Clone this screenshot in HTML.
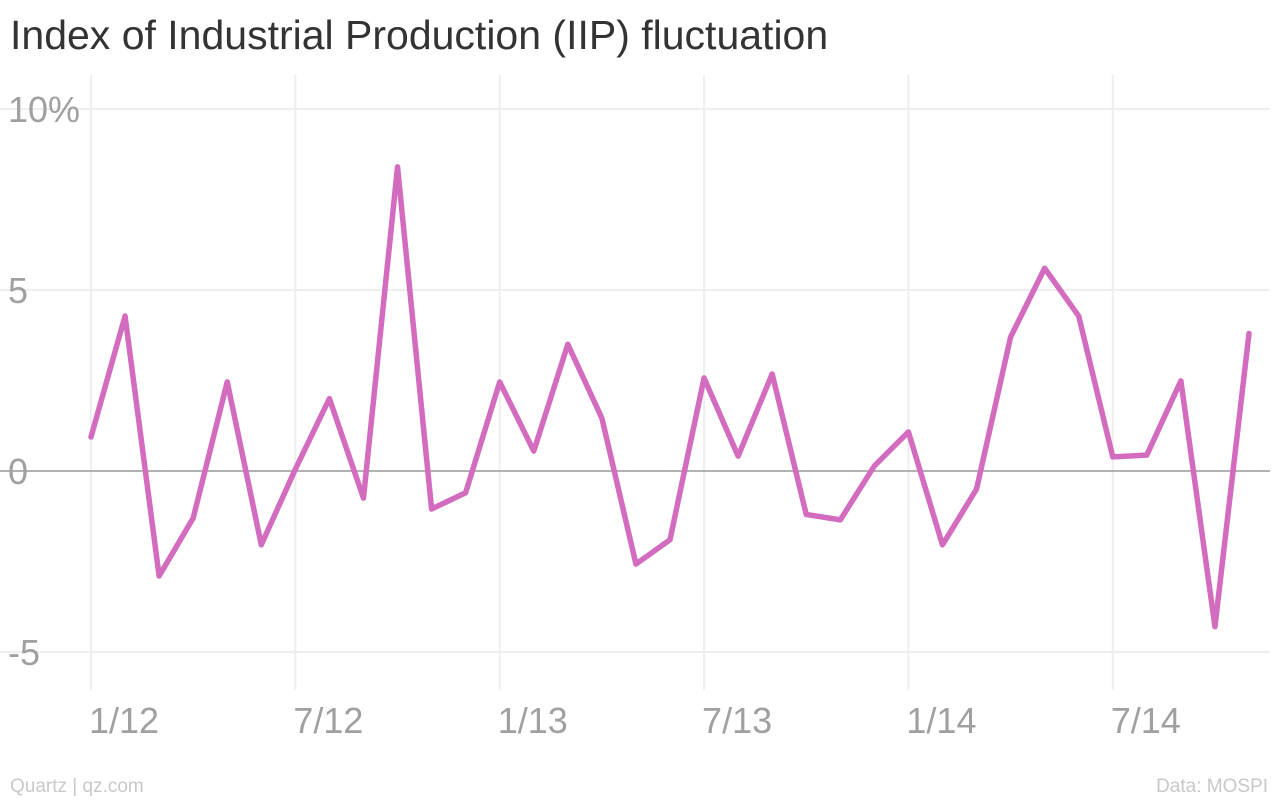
<!DOCTYPE html>
<html><head><meta charset="utf-8"><style>
body{margin:0;background:#fff;width:1280px;height:800px;overflow:hidden;font-family:"Liberation Sans",sans-serif}
</style></head><body>
<svg width="1280" height="800" id="chart">
<text x="10" y="49" font-size="41" fill="#333">Index of Industrial Production (IIP) fluctuation</text>
<text x="10" y="792" font-size="19" fill="#c8c8c8">Quartz | qz.com</text>
<text x="1268" y="792" font-size="19" fill="#c8c8c8" text-anchor="end">Data: MOSPI</text>
<g id="grid"></g><g id="line"></g>
</svg>
<script>
const yTicks=[10,5,0,-5];
const yTickLabels=["10%","5","0","-5"];
const xTickIdx=[0,6,12,18,24,30];
const xTickLabels=["1/12","7/12","1/13","7/13","1/14","7/14"];
const values=[0.94,4.28,-2.9,-1.3,2.46,-2.04,0.05,2.0,-0.75,8.4,-1.05,-0.6,2.46,0.55,3.5,1.46,-2.57,-1.9,2.57,0.41,2.68,-1.2,-1.35,0.14,1.08,-2.04,-0.5,3.7,5.6,4.28,0.39,0.44,2.49,-4.3,3.8];
const NS="http://www.w3.org/2000/svg";
const xs=i=>91+i*(1249-91)/34;
const ys=v=>471-v*36.2;
const grid=document.getElementById('grid'),lg=document.getElementById('line');
function mk(t,a,p){const e=document.createElementNS(NS,t);for(const k in a)e.setAttribute(k,a[k]);p.appendChild(e);return e;}
xTickIdx.forEach((m,i)=>{
 const l=mk('line',{x1:xs(m),x2:xs(m),y1:75,y2:690,stroke:'#eeeeee','stroke-width':2},grid);
 
 
 const t=mk('text',{x:xs(m)-2,y:733,'font-size':36,fill:'#a0a0a0'},grid);
 t.textContent=xTickLabels[i];
 
 
});
yTicks.forEach((v,i)=>{
 const l=mk('line',{x1:0,x2:1270,y1:ys(v),y2:ys(v),stroke:v===0?'#999':'#eeeeee','stroke-width':v===0?1.5:2},grid);
 
 
 const t=mk('text',{x:8,y:ys(v)+13,'font-size':36,fill:'#a0a0a0'},grid);
 t.textContent=yTickLabels[i];
 
 
});
const p=mk('polyline',{points:values.map((v,i)=>xs(i)+','+ys(v)).join(' '),fill:'none',stroke:'#d36bbf','stroke-width':5.5,'stroke-linejoin':'round','stroke-linecap':'round'},lg);


</script>
</body></html>
